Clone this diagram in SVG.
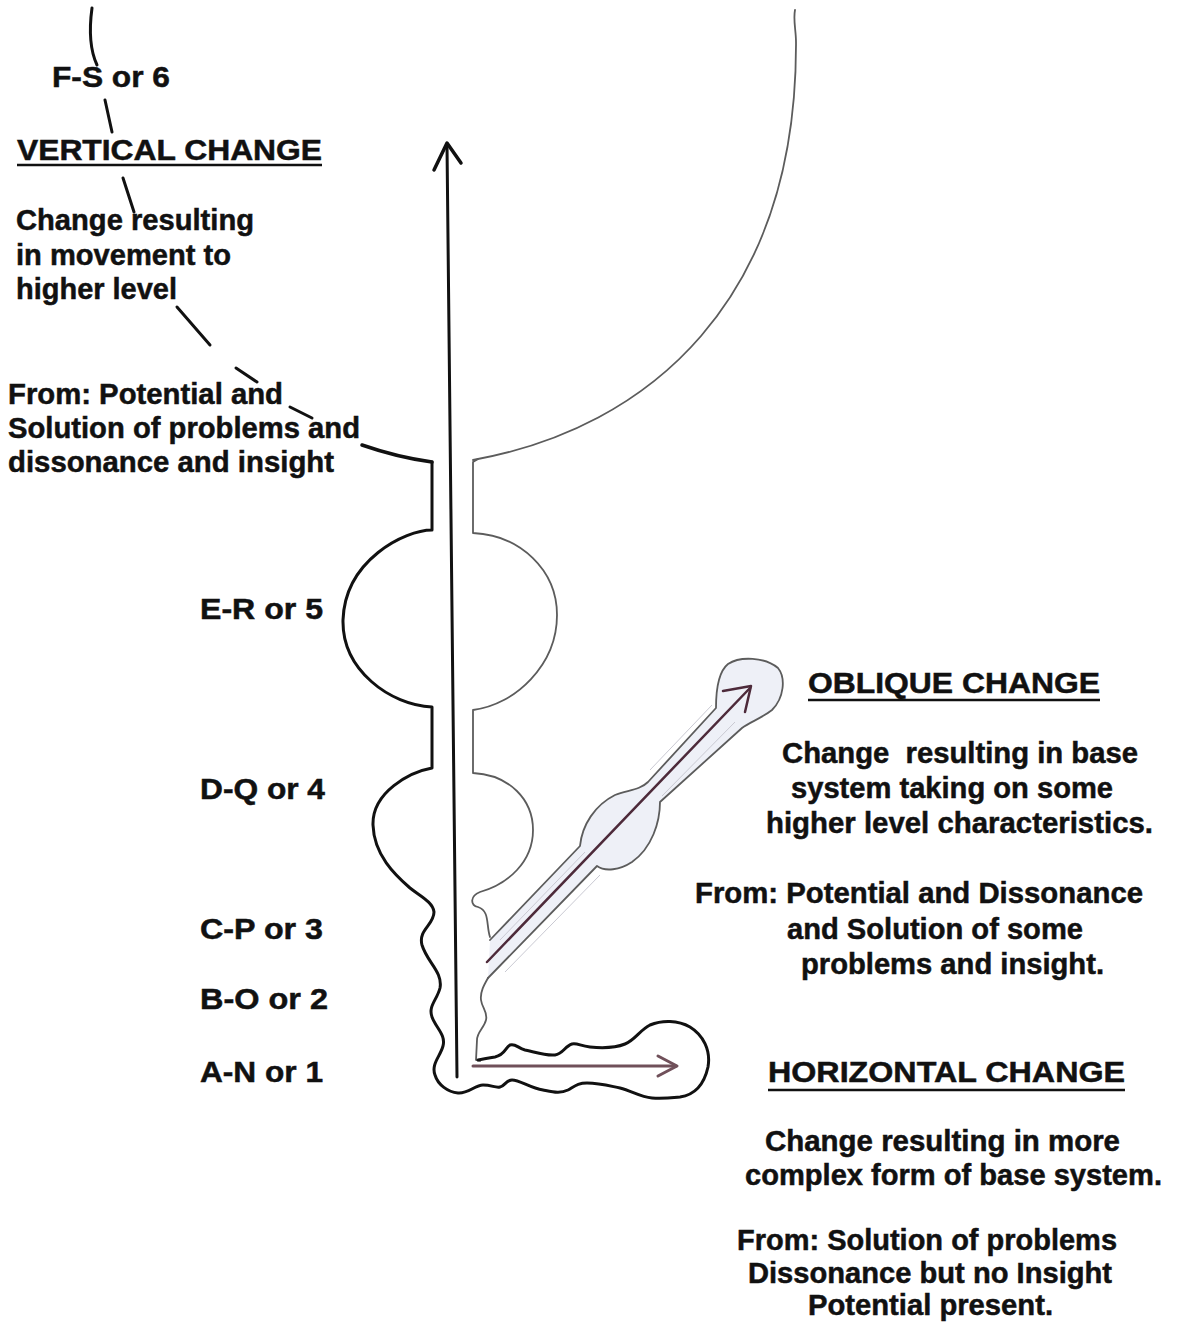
<svg xmlns="http://www.w3.org/2000/svg" width="1177" height="1323" viewBox="0 0 1177 1323">
<style>
  text { font-family: "Liberation Sans", Arial, sans-serif; font-weight: bold; font-size: 29px; fill: #111; stroke: #111; stroke-width: 0.5; white-space: pre; }
  .ink { fill: none; stroke: #111; stroke-width: 3; stroke-linecap: round; stroke-linejoin: round; }
  .pencil { fill: none; stroke: #5c5c5c; stroke-width: 1.8; stroke-linecap: round; stroke-linejoin: round; }
  .ul { stroke: #111; stroke-width: 2.5; }
</style>
<rect width="1177" height="1323" fill="#ffffff"/>

<!-- right-hand (pencil) outlines -->
<g id="outline-right">
  <path class="pencil" d="M473,460 C650,428 797,300 796,42 C796,30 793,20 795,10"/>
  <path class="pencil" d="M478,459 L473,462 L473,533 C520,535 557,570 557,615 C557,665 515,705 473,710 L473,773 C510,775 533,800 533,830 C533,862 508,884 480,892 C470,896 470,905 478,907 C490,911 486,925 490,937"/>
  <path class="pencil" d="M488,978 C484,985 480,992 481,1000 C482,1008 488,1012 486,1020 C484,1028 477,1032 477,1040 L476,1060 L480,1061"/>
</g>

<!-- oblique band -->
<g id="oblique-band">
  <path d="M490,940 L580,846 C582,825 595,805 615,795 C628,790 640,790 648,782 L716,708 C716,690 718,672 728,664 C740,656 765,657 778,668 C786,678 784,698 772,710 C762,718 750,722 742,728 L660,802 C660,822 652,848 632,862 C620,870 605,872 597,866 L488,978 Z" fill="#eef0f7" stroke="none"/>
  <path d="M500,940 L585,852 M505,972 L600,875 M662,796 L735,722 M650,770 L712,705" fill="none" stroke="#c9c9d2" stroke-width="1"/>
  <path class="pencil" d="M490,940 L580,846 C582,825 595,805 615,795 C628,790 640,790 648,782 L716,708 C716,690 718,672 728,664 C740,656 765,657 778,668 C786,678 784,698 772,710 C762,718 750,722 742,728 L660,802 C660,822 652,848 632,862 C620,870 605,872 597,866 L488,978"/>
</g>

<!-- left-hand (ink) outline with horizontal bulb -->
<g id="outline-left">
  <path class="ink" d="M432,462 L432,530 C405,530 345,560 343,620 C342,670 390,705 432,707 L432,768 C410,772 372,792 373,825 C374,855 395,875 410,888 C420,896 433,902 434,912 C434,925 418,930 422,945 C427,962 443,972 440,988 C437,1000 428,1006 432,1017 C436,1028 446,1035 443,1046 C440,1057 431,1064 435,1075 C438,1085 448,1092 458,1093 C468,1094 475,1085 483,1085 C492,1085 495,1088 500,1087 C505,1086 506,1080 512,1080 C520,1080 530,1088 543,1090 C553,1092 560,1094 568,1090 C575,1086 578,1083 587,1083 C600,1083 610,1086 620,1088 C632,1091 640,1097 652,1098 C662,1099 670,1098 680,1097 C694,1095 704,1085 708,1067 C711,1050 703,1035 690,1027 C678,1020 662,1020 650,1025 C640,1030 635,1040 625,1044 C615,1048 600,1048 590,1047 C580,1046 578,1043 572,1044 C565,1046 563,1054 555,1055 C545,1056 535,1052 525,1050 C518,1048 515,1043 510,1045 C505,1048 505,1055 495,1057 C488,1058 484,1059 478,1060"/>
</g>

<!-- leader strokes -->
<g id="leaders">
  <path class="ink" d="M92,8 C89,30 90,50 97,65"/>
  <path class="ink" d="M105,100 L112,132"/>
  <path class="ink" d="M123,178 L134,212"/>
  <path class="ink" d="M177,307 L210,345"/>
  <path class="ink" d="M236,368 L257,382"/>
  <path class="ink" d="M290,407 L312,418"/>
  <path class="ink" d="M362,445 C385,453 410,459 432,462" style="stroke-width:3.5"/>
</g>

<!-- connectors / arrows -->
<g id="connectors">
  <g id="vertical-arrow">
    <path class="ink" d="M447,145 L457,1077"/>
    <path class="ink" d="M434,170 L447,143 L461,163" style="stroke-width:3.5"/>
  </g>
  <g id="oblique-arrow" fill="none" stroke="#4d2a3a" stroke-width="2.5" stroke-linecap="round" stroke-linejoin="round">
    <path d="M487,962 L750,688"/>
    <path d="M723,691 L751,686 L745,712"/>
  </g>
  <g id="horizontal-arrow" fill="none" stroke="#70505a" stroke-width="3" stroke-linecap="round" stroke-linejoin="round">
    <path d="M473,1066 L676,1066"/>
    <path d="M658,1056 L677,1066 L658,1076"/>
  </g>
</g>

<!-- vertical change text -->
<g id="node-vertical">
  <text x="52" y="87" textLength="118" lengthAdjust="spacingAndGlyphs">F-S or 6</text>
  <text x="17" y="160" textLength="305" lengthAdjust="spacingAndGlyphs">VERTICAL CHANGE</text>
  <line class="ul" x1="17" y1="165" x2="322" y2="165"/>
  <text x="16" y="230" textLength="238" lengthAdjust="spacingAndGlyphs">Change resulting</text>
  <text x="16" y="265" textLength="215" lengthAdjust="spacingAndGlyphs">in movement to</text>
  <text x="16" y="299" textLength="161" lengthAdjust="spacingAndGlyphs">higher level</text>
  <text x="8" y="404" textLength="275" lengthAdjust="spacingAndGlyphs">From: Potential and</text>
  <text x="8" y="438" textLength="352" lengthAdjust="spacingAndGlyphs">Solution of problems and</text>
  <text x="8" y="472" textLength="326" lengthAdjust="spacingAndGlyphs">dissonance and insight</text>
</g>

<!-- level labels -->
<g id="node-levels">
  <text x="200" y="619" textLength="123" lengthAdjust="spacingAndGlyphs">E-R or 5</text>
  <text x="200" y="799" textLength="125" lengthAdjust="spacingAndGlyphs">D-Q or 4</text>
  <text x="200" y="939" textLength="123" lengthAdjust="spacingAndGlyphs">C-P or 3</text>
  <text x="200" y="1009" textLength="128" lengthAdjust="spacingAndGlyphs">B-O or 2</text>
  <text x="200" y="1082" textLength="123" lengthAdjust="spacingAndGlyphs">A-N or 1</text>
</g>

<!-- oblique change text -->
<g id="node-oblique">
  <text x="808" y="693" textLength="292" lengthAdjust="spacingAndGlyphs">OBLIQUE CHANGE</text>
  <line class="ul" x1="808" y1="700" x2="1100" y2="700"/>
  <text x="782" y="763" textLength="356" lengthAdjust="spacingAndGlyphs">Change  resulting in base</text>
  <text x="791" y="798" textLength="322" lengthAdjust="spacingAndGlyphs">system taking on some</text>
  <text x="766" y="833" textLength="387" lengthAdjust="spacingAndGlyphs">higher level characteristics.</text>
  <text x="695" y="903" textLength="448" lengthAdjust="spacingAndGlyphs">From: Potential and Dissonance</text>
  <text x="787" y="939" textLength="296" lengthAdjust="spacingAndGlyphs">and Solution of some</text>
  <text x="801" y="974" textLength="303" lengthAdjust="spacingAndGlyphs">problems and insight.</text>
</g>

<!-- horizontal change text -->
<g id="node-horizontal">
  <text x="768" y="1082" textLength="357" lengthAdjust="spacingAndGlyphs">HORIZONTAL CHANGE</text>
  <line class="ul" x1="768" y1="1090" x2="1125" y2="1090"/>
  <text x="765" y="1151" textLength="355" lengthAdjust="spacingAndGlyphs">Change resulting in more</text>
  <text x="745" y="1185" textLength="417" lengthAdjust="spacingAndGlyphs">complex form of base system.</text>
  <text x="737" y="1250" textLength="380" lengthAdjust="spacingAndGlyphs">From: Solution of problems</text>
  <text x="748" y="1283" textLength="364" lengthAdjust="spacingAndGlyphs">Dissonance but no Insight</text>
  <text x="808" y="1315" textLength="245" lengthAdjust="spacingAndGlyphs">Potential present.</text>
</g>
</svg>
